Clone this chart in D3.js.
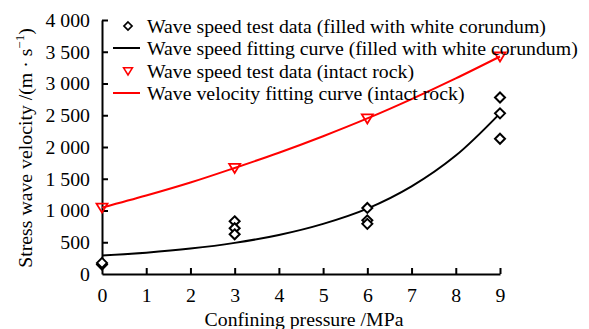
<!DOCTYPE html>
<html>
<head>
<meta charset="utf-8">
<script src="https://cdn.jsdelivr.net/npm/d3@7"></script>
<style>
  html, body { margin: 0; padding: 0; background: #fff; }
  svg { display: block; font-family: "Liberation Serif", "Times New Roman", serif; }
</style>
</head>
<body>
<svg id="chart" width="589" height="329"></svg>
<script>
// Confining pressure levels (MPa) and test readings
const pressureTicks = [0, 1, 2, 3, 4, 5, 6, 7, 8, 9];
const velocityTicks = [0, 500, 1000, 1500, 2000, 2500, 3000, 3500, 4000];

// Specimens filled with white corundum: three readings per pressure level
const corundumPressure = [0, 0, 3, 3, 3, 6, 6, 6, 9, 9, 9];
const corundumSpeed    = [150, 175, 830, 720, 625, 1040, 845, 790, 2780, 2530, 2130];

// Intact rock: one reading per pressure level
const intactPressure = [0, 3, 6, 9];
const intactSpeed    = [1045, 1670, 2450, 3425];

// Fitted curves, sampled at each integer pressure
const fitPressure    = [0, 1, 2, 3, 4, 5, 6, 7, 8, 9];
const corundumFit    = [290, 336, 400, 490, 615, 790, 1030, 1380, 1865, 2530];
const intactFit      = [1045, 1235, 1440, 1670, 1910, 2170, 2450, 2755, 3080, 3425];

const legendLabels = [
  "Wave speed test data (filled with white corundum)",
  "Wave speed fitting curve (filled with white corundum)",
  "Wave speed test data (intact rock)",
  "Wave velocity fitting curve (intact rock)"
];

const fontSize = "19.8px";
const svg = d3.select("#chart");
const plotLeft = 102, plotRight = 500, plotTop = 20, plotBottom = 274;

const x = d3.scaleLinear().domain([0, 9]).range([plotLeft, plotRight]);
const y = d3.scaleLinear().domain([0, 4000]).range([plotBottom, plotTop]);

const thousands = v => v >= 1000 ? `${Math.floor(v / 1000)} ${String(v % 1000).padStart(3, "0")}` : String(v);

// Axes with inward ticks
const xAxis = svg.append("g").attr("transform", `translate(0,${plotBottom})`)
  .call(d3.axisBottom(x).tickValues(pressureTicks).tickSizeInner(-6).tickSizeOuter(0).tickPadding(14));
const yAxis = svg.append("g").attr("transform", `translate(${plotLeft},0)`)
  .call(d3.axisLeft(y).tickValues(velocityTicks).tickSizeInner(-6).tickSizeOuter(0).tickPadding(12)
    .tickFormat(thousands));

[xAxis, yAxis].forEach(g => {
  g.select(".domain").attr("stroke", "#000").attr("stroke-width", 2);
  g.selectAll(".tick line").attr("stroke", "#000").attr("stroke-width", 2);
  g.selectAll(".tick text").attr("fill", "#000").style("font-size", fontSize)
    .style("font-family", '"Liberation Serif", "Times New Roman", serif');
});
xAxis.selectAll(".tick").filter(d => d === 0).select("line").remove();
yAxis.selectAll(".tick").filter(d => d === 0).select("line").remove();

// Axis titles
svg.append("text")
  .attr("x", 304).attr("y", 326)
  .attr("text-anchor", "middle").style("font-size", fontSize)
  .text("Confining pressure /MPa");

const yTitle = svg.append("text")
  .attr("transform", "translate(32,148) rotate(-90)")
  .attr("text-anchor", "middle").style("font-size", fontSize);
yTitle.append("tspan").text("Stress wave velocity /(m \u00b7 s");
yTitle.append("tspan").attr("dy", -8).style("font-size", "13px").text("\u22121");
yTitle.append("tspan").attr("dy", 8).text(")");

// Fitted curves
const line = d3.line().x(d => x(d[0])).y(d => y(d[1])).curve(d3.curveCatmullRom);
svg.append("path")
  .datum(d3.zip(fitPressure, corundumFit))
  .attr("d", line).attr("fill", "none").attr("stroke", "#000").attr("stroke-width", 2);
svg.append("path")
  .datum(d3.zip(fitPressure, intactFit))
  .attr("d", line).attr("fill", "none").attr("stroke", "#ff0000").attr("stroke-width", 2);

// Markers
const diamond = "M0,-5 L5,0 L0,5 L-5,0 Z";
const triangle = "M-5.5,-4 L5.5,-4 L0,5 Z";

svg.append("g").selectAll("path")
  .data(d3.zip(corundumPressure, corundumSpeed))
  .join("path")
  .attr("d", diamond)
  .attr("transform", d => `translate(${x(d[0])},${y(d[1])})`)
  .attr("fill", "#fff").attr("stroke", "#000").attr("stroke-width", 2);

svg.append("g").selectAll("path")
  .data(d3.zip(intactPressure, intactSpeed))
  .join("path")
  .attr("d", triangle)
  .attr("transform", d => `translate(${x(d[0])},${y(d[1])})`)
  .attr("fill", "none").attr("stroke", "#ff0000").attr("stroke-width", 1.8);

// Legend
const legend = svg.append("g");
const rowY = [26, 48, 71, 93];
legendLabels.forEach((label, i) => {
  const g = legend.append("g").attr("transform", `translate(0,${rowY[i]})`);
  if (i === 0) {
    g.append("path").attr("d", diamond).attr("transform", "translate(128,0) scale(0.8)")
      .attr("fill", "#fff").attr("stroke", "#000").attr("stroke-width", 2.2);
  } else if (i === 2) {
    g.append("path").attr("d", triangle).attr("transform", "translate(128,0) scale(0.8)")
      .attr("fill", "none").attr("stroke", "#ff0000").attr("stroke-width", 2);
  } else {
    g.append("line").attr("x1", 113).attr("x2", 140).attr("y1", 0).attr("y2", 0)
      .attr("stroke", i === 1 ? "#000" : "#ff0000").attr("stroke-width", 2);
  }
  g.append("text").attr("x", 147).attr("y", 0).attr("dy", "0.33em")
    .style("font-size", fontSize).text(label);
});
</script>
</body>
</html>
